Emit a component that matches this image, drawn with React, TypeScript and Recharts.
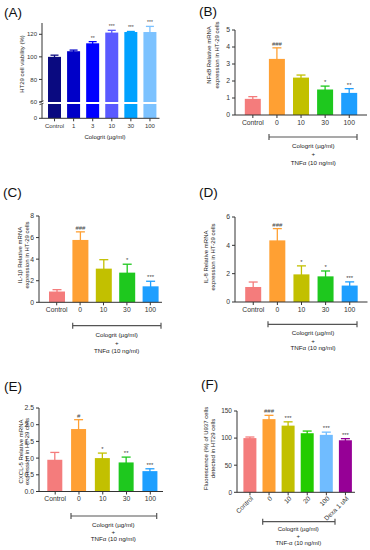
import React from 'react';
import { BarChart, Bar, XAxis, YAxis } from 'recharts';

const FONT = '"Liberation Sans", Arial, Helvetica, sans-serif';

// ---------- DATA ----------
const aCats = ['Control', '1', '3', '10', '30', '100'];
const aMeans = [100, 105, 112, 121.5, 122, 122];
const aErrs = [1.5, 1, 1.5, 2, 0.5, 5];
const aMarks = ['', '', '**', '***', '***', '***'];

const bCats = ['Control', '0', '10', '30', '100'];
const bMeans = [0.95, 3.3, 2.2, 1.5, 1.3];
const bErrs = [0.13, 0.65, 0.15, 0.2, 0.25];
const bMarks = ['', '###', '', '*', '**'];

const cCats = ['Control', '0', '10', '30', '100'];
const cMeans = [1.0, 5.78, 3.12, 2.75, 1.48];
const cErrs = [0.17, 0.75, 0.83, 0.78, 0.47];
const cMarks = ['', '###', '', '*', '***'];

const dCats = ['Control', '0', '10', '30', '100'];
const dMeans = [1.06, 4.35, 1.95, 1.81, 1.16];
const dErrs = [0.35, 0.83, 0.6, 0.38, 0.26];
const dMarks = ['', '###', '*', '*', '***'];

const eCats = ['Control', '0', '10', '30', '100'];
const eMeans = [0.95, 1.87, 1.0, 0.87, 0.61];
const eErrs = [0.22, 0.28, 0.15, 0.16, 0.07];
const eMarks = ['', '#', '*', '**', '***'];

const fCats = ['Control', '0', '10', '20', '100', 'Dexa 1 uM'];
const fMeans = [100, 135, 123, 109, 106, 96];
const fErrs = [2, 7, 7, 4, 5, 3];
const fMarks = ['', '###', '***', '', '***', '***'];

const aTicksUpper = [60, 80, 100, 120];
const aTicksLower = [0];
const bTicks = [0, 1, 2, 3, 4, 5];
const cTicks = [0, 2, 4, 6, 8];
const dTicks = [0, 2, 4, 6];
const eTicks = [0, 0.5, 1, 1.5, 2, 2.5];
const fTicks = [0, 50, 100, 150];

// ---------- STYLES ----------
const blues = ['#0a0a80', '#0000c8', '#0000ff', '#5a5aff', '#00a2ff', '#7cc2ff'];
const warm = ['#f47c7c', '#ffa033', '#c2c000', '#1ec81e', '#1e9fff'];
const warmF = ['#f47c7c', '#ffa033', '#c2c000', '#22cc00', '#70bcff', '#960096'];

type Row = { cat: string; mean: number; err: number; mark: string };
const rows = (cats: string[], m: number[], e: number[], k: string[]): Row[] =>
  cats.map((c, i) => ({ cat: c, mean: m[i], err: e[i], mark: k[i] }));

const INK = '#333';

function makeShape(colors: string[], cats: string[], base: number, showErr: boolean, starFont: number, capHalf: number) {
  return (props: any) => {
    const { x, y, width, height, payload } = props;
    const i = cats.indexOf(payload.cat);
    const color = colors[i];
    const els: any[] = [<rect key="r" x={x} y={y} width={width} height={height} fill={color} />];
    if (showErr && payload.mean > base && height > 0) {
      const k = height / (payload.mean - base);
      const top = y - payload.err * k;
      const cx = x + width / 2;
      els.push(<line key="v" x1={cx} x2={cx} y1={y + 1} y2={top} stroke={color} strokeWidth={1.3} />);
      els.push(<line key="c" x1={cx - capHalf} x2={cx + capHalf} y1={top} y2={top} stroke={color} strokeWidth={1.3} />);
      if (payload.mark)
        els.push(
          <text key="t" x={cx} y={top - 2} textAnchor="middle" fontSize={starFont} fill="#444">
            {payload.mark}
          </text>
        );
    }
    return <g>{els}</g>;
  };
}

type PanelProps = {
  data: Row[];
  cats: string[];
  colors: string[];
  plot: { l: number; t: number; r: number; b: number };
  domain: [number, number];
  ticks: number[];
  fmt?: (v: number) => string;
  padL: number;
  padR: number;
  barSize: number;
  tickFont: number;
  starFont?: number;
  capHalf?: number;
  hideX?: boolean;
  overflow?: boolean;
  showErr?: boolean;
  rotate?: boolean;
  base?: number;
  xH?: number;
};

function Panel(p: PanelProps) {
  const yW = 30;
  const mt = 12;
  const mr = 4;
  const mb = p.hideX ? 6 : 0;
  const xH = p.hideX ? 0 : p.xH ?? 22;
  const w = p.plot.r - p.plot.l + yW + mr;
  const h = mt + (p.plot.b - p.plot.t) + xH + mb;
  const left = p.plot.l - yW;
  const top = p.plot.t - mt;
  const XT = (tp: any) => {
    const { x, y, payload } = tp;
    if (p.rotate) {
      return (
        <text x={x + 2} y={y} transform={`rotate(-45 ${x + 2} ${y})`} textAnchor="end" dy="0.35em" fontSize={p.tickFont} fill={INK}>
          {payload.value}
        </text>
      );
    }
    return (
      <text x={x} y={y} textAnchor="middle" dy="0.71em" fontSize={p.tickFont} fill={INK}>
        {payload.value}
      </text>
    );
  };
  return (
    <div style={{ position: 'absolute', left, top, width: w, height: h }}>
      <BarChart width={w} height={h} data={p.data} margin={{ top: mt, right: mr, left: 0, bottom: mb }}>
        <XAxis
          dataKey="cat"
          hide={p.hideX}
          height={xH}
          interval={0}
          padding={{ left: p.padL, right: p.padR }}
          axisLine={{ stroke: INK, strokeWidth: 1 }}
          tickLine={{ stroke: INK, strokeWidth: 1 }}
          tickSize={3}
          tickMargin={2}
          tick={XT}
        />
        <YAxis
          type="number"
          width={yW}
          domain={p.domain}
          ticks={p.ticks}
          allowDataOverflow={!!p.overflow}
          interval={0}
          tickFormatter={p.fmt}
          axisLine={{ stroke: INK, strokeWidth: 1 }}
          tickLine={{ stroke: INK, strokeWidth: 1 }}
          tickSize={3}
          tickMargin={2}
          tick={{ fontSize: p.tickFont, fill: INK }}
        />
        <Bar
          dataKey="mean"
          barSize={p.barSize}
          isAnimationActive={false}
          shape={makeShape(p.colors, p.cats, p.base ?? 0, !!p.showErr, p.starFont ?? 6, p.capHalf ?? 4.5)}
        />
      </BarChart>
    </div>
  );
}

const Bracket = ({ x1, x2, y }: { x1: number; x2: number; y: number }) => (
  <g stroke="#555" strokeWidth={1.2}>
    <line x1={x1} x2={x2} y1={y} y2={y} />
    <line x1={x1} x2={x1} y1={y - 3} y2={y + 3} />
    <line x1={x2} x2={x2} y1={y - 3} y2={y + 3} />
  </g>
);

const Lines3 = ({ cx, ys, lines, fs }: { cx: number; ys: number[]; lines: string[]; fs: number }) => (
  <g>
    {lines.map((t, i) => (
      <text key={i} x={cx} y={ys[i]} textAnchor="middle" dominantBaseline="central" fontSize={fs} fill="#222">
        {t}
      </text>
    ))}
  </g>
);

const YTitle = ({ xs, cy, lines, fs }: { xs: number[]; cy: number; lines: string[]; fs: number }) => (
  <g>
    {lines.map((t, i) => (
      <text
        key={i}
        x={xs[i]}
        y={cy}
        transform={`rotate(-90 ${xs[i]} ${cy})`}
        textAnchor="middle"
        dominantBaseline="central"
        fontSize={fs}
        fill="#222"
      >
        {t}
      </text>
    ))}
  </g>
);

const PanelLabel = ({ x, y, t }: { x: number; y: number; t: string }) => (
  <text x={x} y={y} fontSize={13.5} fill="#111">
    {t}
  </text>
);

export default function App() {
  const fmt1 = (v: number) => v.toFixed(1);
  const treat = ['Cologrit (µg/ml)', '+', 'TNFα (10 ng/ml)'];
  return (
    <div style={{ position: 'absolute', left: 0, top: 0, width: 370, height: 550, background: '#fff', fontFamily: FONT, overflow: 'hidden' }}>
      {/* A: broken axis (lower + upper segments) */}
      <Panel
        data={rows(aCats, aMeans, aErrs, aMarks)}
        cats={aCats}
        colors={blues}
        plot={{ l: 41.5, t: 104, r: 159, b: 118.3 }}
        domain={[0, 60]}
        ticks={aTicksLower}
        padL={3}
        padR={0}
        barSize={13}
        tickFont={6}
        overflow
        xH={24}
      />
      <Panel
        data={rows(aCats, aMeans, aErrs, aMarks)}
        cats={aCats}
        colors={blues}
        plot={{ l: 41.5, t: 22.7, r: 159, b: 101.7 }}
        domain={[60, 130]}
        ticks={aTicksUpper}
        padL={3}
        padR={0}
        barSize={13}
        tickFont={6}
        starFont={5}
        capHalf={4}
        hideX
        showErr
        base={60}
      />
      <Panel
        data={rows(bCats, bMeans, bErrs, bMarks)}
        cats={bCats}
        colors={warm}
        plot={{ l: 235, t: 29.5, r: 367, b: 114.5 }}
        domain={[0, 5]}
        ticks={bTicks}
        padL={5.8}
        padR={5.7}
        barSize={16}
        tickFont={6.8}
        showErr
      />
      <Panel
        data={rows(cCats, cMeans, cErrs, cMarks)}
        cats={cCats}
        colors={warm}
        plot={{ l: 39, t: 215.7, r: 162, b: 302 }}
        domain={[0, 8]}
        ticks={cTicks}
        padL={6}
        padR={0}
        barSize={16}
        tickFont={6.8}
        showErr
      />
      <Panel
        data={rows(dCats, dMeans, dErrs, dMarks)}
        cats={dCats}
        colors={warm}
        plot={{ l: 234.5, t: 216.7, r: 367, b: 301.7 }}
        domain={[0, 6]}
        ticks={dTicks}
        padL={6.2}
        padR={5.7}
        barSize={16}
        tickFont={6.8}
        showErr
      />
      <Panel
        data={rows(eCats, eMeans, eErrs, eMarks)}
        cats={eCats}
        colors={warm}
        plot={{ l: 39, t: 408.3, r: 163, b: 491.8 }}
        domain={[0, 2.5]}
        ticks={eTicks}
        fmt={fmt1}
        padL={4.3}
        padR={0.8}
        barSize={15}
        tickFont={6.8}
        showErr
      />
      <Panel
        data={rows(fCats, fMeans, fErrs, fMarks)}
        cats={fCats}
        colors={warmF}
        plot={{ l: 237, t: 410.7, r: 355, b: 492 }}
        domain={[0, 150]}
        ticks={fTicks}
        padL={3.4}
        padR={0}
        barSize={13}
        tickFont={6.5}
        showErr
        rotate
        xH={30}
      />

      <svg width={370} height={550} style={{ position: 'absolute', left: 0, top: 0, pointerEvents: 'none' }}>
        <PanelLabel x={4} y={16.7} t="(A)" />
        <PanelLabel x={199} y={15.7} t="(B)" />
        <PanelLabel x={3} y={196.7} t="(C)" />
        <PanelLabel x={199} y={196.7} t="(D)" />
        <PanelLabel x={4} y={391} t="(E)" />
        <PanelLabel x={201} y={389} t="(F)" />

        {/* axis break marks for A */}
        <g stroke={INK} strokeWidth={0.9}>
          <line x1={39.5} y1={102.2} x2={43.5} y2={100.8} />
          <line x1={39.5} y1={104.6} x2={43.5} y2={103.2} />
        </g>

        <YTitle xs={[22]} cy={64} lines={['HT29 cell viability (%)']} fs={6} />
        <text x={105} y={136.7} textAnchor="middle" dominantBaseline="central" fontSize={6} fill="#222">
          Cologrit (µg/ml)
        </text>

        <YTitle xs={[209, 216.7]} cy={55} lines={['NFκB Relative mRNA', 'expression in HT-29 cells']} fs={6} />
        <YTitle xs={[20, 26.8]} cy={255} lines={['IL-1β Relative mRNA', 'expression in HT-29 cells']} fs={6} />
        <YTitle xs={[205.7, 212.7]} cy={257} lines={['IL-8 Relative mRNA', 'expression in HT-29 cells']} fs={6} />
        <YTitle xs={[20.7, 27.4]} cy={451.5} lines={['CXCL-5 Relative mRNA', 'expression in HT-29 cells']} fs={6} />
        <YTitle xs={[205.7, 213.3]} cy={448.5} lines={['Fluorescence (%) of U937 cells', 'detected in HT29 cells']} fs={6} />

        <Bracket x1={269} x2={357} y={137} />
        <Lines3 cx={313.3} ys={[145.7, 153.3, 162.3]} lines={treat} fs={6.2} />

        <Bracket x1={72.7} x2={161} y={325.7} />
        <Lines3 cx={116.7} ys={[334.7, 342.7, 350.7]} lines={treat} fs={6.2} />

        <Bracket x1={268} x2={357} y={324.3} />
        <Lines3 cx={313} ys={[332, 340.2, 347.9]} lines={treat} fs={6.2} />

        <Bracket x1={71} x2={156.7} y={516} />
        <Lines3 cx={113.3} ys={[524.3, 531.2, 538.3]} lines={treat} fs={6.2} />

        <Bracket x1={262.7} x2={335} y={521.7} />
        <Lines3 cx={298.3} ys={[529.3, 536, 543.3]} lines={['Cologrit (µg/ml)', '+', 'TNF-α (10 ng/ml)']} fs={6} />
      </svg>
    </div>
  );
}
